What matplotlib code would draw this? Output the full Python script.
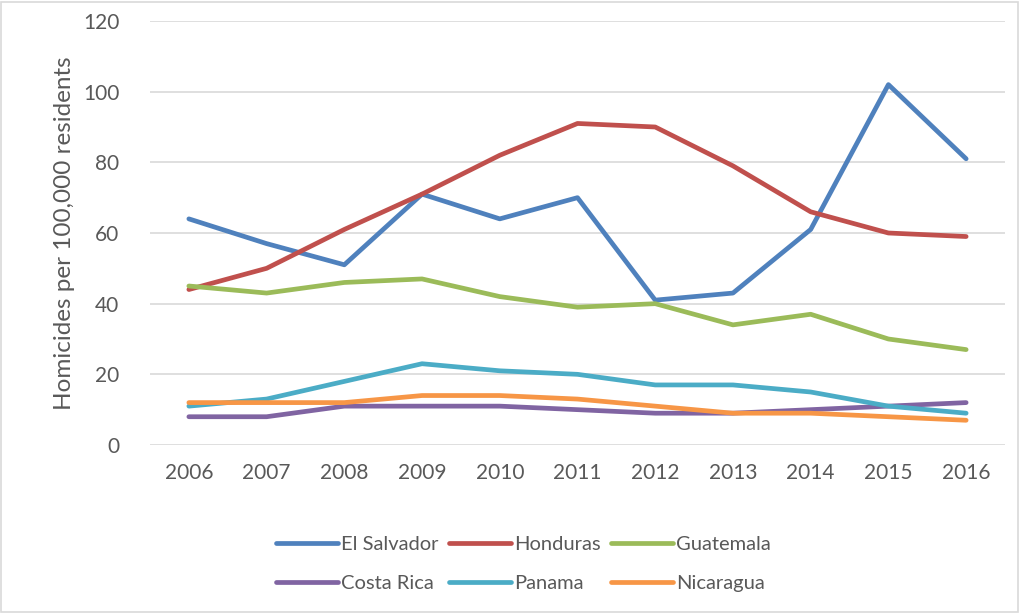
import matplotlib.pyplot as plt
from matplotlib.patches import Rectangle

plt.rcParams['font.family'] = ['Lato', 'DejaVu Sans']

years = ['2006', '2007', '2008', '2009', '2010', '2011', '2012', '2013', '2014', '2015', '2016']

el_salvador = [64, 57, 51, 71, 64, 70, 41, 43, 61, 102, 81]
honduras = [44, 50, 61, 71, 82, 91, 90, 79, 66, 60, 59]
guatemala = [45, 43, 46, 47, 42, 39, 40, 34, 37, 30, 27]
costa_rica = [8, 8, 11, 11, 11, 10, 9, 9, 10, 11, 12]
panama = [11, 13, 18, 23, 21, 20, 17, 17, 15, 11, 9]
nicaragua = [12, 12, 12, 14, 14, 13, 11, 9, 9, 8, 7]

series = [
    ('El Salvador', el_salvador, '#4f81bd'),
    ('Honduras', honduras, '#c0504d'),
    ('Guatemala', guatemala, '#9bbb59'),
    ('Costa Rica', costa_rica, '#8064a2'),
    ('Panama', panama, '#4bacc6'),
    ('Nicaragua', nicaragua, '#f79646'),
]

text_color = '#595959'

fig = plt.figure(figsize=(10.2, 6.13), dpi=100)
ax = fig.add_axes([150 / 1020, 1 - 445 / 613, (1005 - 150) / 1020, (445 - 21) / 613])

x = list(range(len(years)))
lines = []
for name, vals, color in series:
    ln, = ax.plot(x, vals, color=color, lw=3.4, solid_capstyle='round',
                  solid_joinstyle='round', label=name)
    lines.append(ln)

ax.set_xlim(-0.5, len(years) - 0.5)
ax.set_ylim(0, 120)
ax.set_yticks(range(0, 121, 20))
ax.set_xticks(x)
ax.set_xticklabels(years)
ax.grid(axis='y', color='#d9d9d9', lw=1.2)
ax.set_axisbelow(True)
for s in ['top', 'right', 'left', 'bottom']:
    ax.spines[s].set_visible(False)
ax.tick_params(length=0, labelsize=15, colors=text_color)
ax.tick_params(axis='x', pad=13)
ax.tick_params(axis='y', pad=22)
ax.set_ylabel('Homicides per 100,000 residents', fontsize=17.5, color=text_color, labelpad=6)

# matplotlib fills legend columns first; reorder so rows read like the original
order = [0, 3, 1, 4, 2, 5]
leg = fig.legend([lines[i] for i in order], [series[i][0] for i in order],
                 loc='center', bbox_to_anchor=(0.513, 1 - 564 / 613), ncol=3,
                 frameon=False, fontsize=14.5, handlelength=3.1, handletextpad=0.15,
                 columnspacing=0.5, labelspacing=1.1)
for t in leg.get_texts():
    t.set_color(text_color)

fig.patches.append(Rectangle((0.001, 0.002), 0.997, 0.995, transform=fig.transFigure,
                             fill=False, edgecolor='#d9d9d9', lw=1.2))

fig.savefig('out.png', dpi=100)
